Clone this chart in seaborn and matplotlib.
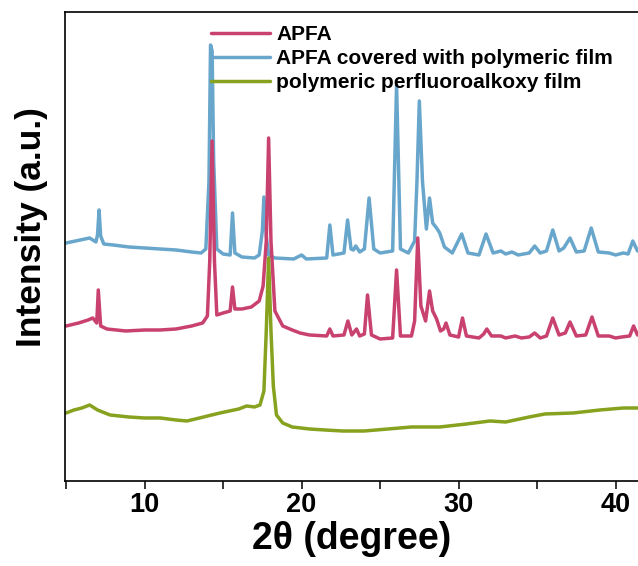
import matplotlib
matplotlib.use("Agg")
import matplotlib.pyplot as plt
import seaborn as sns
import pandas as pd
from matplotlib.ticker import MultipleLocator

# XRD patterns (2theta in degrees, intensity in arbitrary units, stacked offsets included)
apfa_2theta = [5.0, 5.8, 6.4, 6.7, 6.95, 7.05, 7.2, 7.6, 8.8, 10.0, 11.0, 12.0, 13.0, 13.7,
               14.0, 14.15, 14.3, 14.45, 14.6, 15.0, 15.45, 15.6, 15.75, 16.2, 16.8, 17.3,
               17.55, 17.75, 17.9, 18.05, 18.3, 18.8, 19.4, 19.9, 20.5, 21.6, 21.8, 22.0,
               22.7, 22.95, 23.2, 23.5, 23.7, 24.0, 24.2, 24.45, 25.0, 25.8, 26.05, 26.3,
               27.0, 27.2, 27.4, 27.6, 27.9, 28.15, 28.35, 28.6, 28.85, 29.05, 29.2, 29.45,
               30.0, 30.25, 30.5, 31.3, 31.6, 31.8, 32.1, 32.7, 33.0, 33.6, 34.0, 34.5,
               34.85, 35.2, 35.6, 36.0, 36.4, 36.8, 37.1, 37.5, 38.1, 38.5, 38.9, 39.6,
               40.0, 40.4, 40.9, 41.15, 41.4]
apfa_intensity = [155, 158, 161, 163, 158, 191, 155, 152, 150, 151, 151, 152, 155, 158,
                  165, 220, 340, 220, 166, 168, 170, 194, 172, 172, 174, 180,
                  195, 240, 343, 240, 170, 155, 151, 148, 146, 145, 152, 145,
                  146, 160, 146, 152, 145, 147, 186, 146, 142, 143, 211, 145,
                  145, 160, 243, 175, 160, 190, 170, 162, 150, 152, 158, 146,
                  144, 163, 145, 143, 147, 152, 145, 145, 143, 145, 143, 144,
                  148, 143, 145, 163, 146, 148, 159, 145, 146, 164, 145, 145,
                  143, 144, 145, 155, 146]

covered_2theta = [5.0, 5.6, 6.2, 6.5, 6.9, 7.0, 7.1, 7.2, 7.4, 8.0, 9.0, 10.0, 11.0, 12.0,
                  13.0, 13.6, 13.9, 14.1, 14.2, 14.3, 14.4, 14.6, 15.0, 15.45, 15.6, 15.75,
                  16.2, 17.0, 17.3, 17.5, 17.6, 17.75, 17.9, 18.3, 19.5, 20.0, 20.3, 21.6,
                  21.8, 22.0, 22.7, 22.93, 23.15, 23.3, 23.45, 23.7, 24.0, 24.3, 24.6, 25.0,
                  25.8, 26.05, 26.3, 26.8, 27.2, 27.35, 27.5, 27.7, 27.95, 28.15, 28.35, 28.6,
                  28.8, 29.1, 29.6, 30.2, 30.6, 31.3, 31.75, 32.2, 32.7, 33.0, 33.4, 33.8,
                  34.5, 34.85, 35.2, 35.6, 36.0, 36.4, 36.7, 37.1, 37.5, 38.0, 38.45, 38.9,
                  39.6, 40.0, 40.5, 40.8, 41.1, 41.4]
covered_intensity = [238, 240, 242, 243, 239, 246, 271, 245, 237, 236, 234, 233, 232, 231,
                     229, 228, 232, 300, 436, 430, 320, 232, 227, 226, 268, 228,
                     224, 223, 226, 250, 284, 245, 226, 223, 222, 226, 222, 223,
                     256, 226, 228, 261, 232, 231, 235, 229, 232, 283, 232, 228,
                     230, 396, 232, 228, 240, 300, 380, 300, 252, 283, 258, 253,
                     248, 234, 228, 247, 228, 226, 247, 228, 230, 227, 229, 226,
                     228, 235, 228, 230, 251, 230, 233, 243, 229, 230, 253, 229,
                     228, 226, 228, 227, 240, 230]

film_2theta = [5.0, 5.5, 6.0, 6.5, 7.0, 7.8, 9.0, 10.0, 11.0, 12.0, 12.7, 13.5, 14.8, 16.0,
               16.5, 17.0, 17.35, 17.6, 17.75, 17.9, 18.05, 18.2, 18.4, 18.8, 19.4, 20.5,
               21.5, 22.6, 24.0, 25.5, 27.0, 28.8, 30.5, 32.0, 33.0, 34.5, 35.5, 37.3,
               39.0, 40.5, 41.4]
film_intensity = [68, 71, 73, 76, 71, 66, 64, 63, 63, 61, 60, 63, 68, 72,
                  75, 74, 76, 90, 150, 223, 150, 95, 66, 58, 54, 52,
                  51, 50, 50, 52, 54, 54, 57, 60, 59, 64, 67, 68,
                  71, 73, 73]

labels = ["APFA", "APFA covered with polymeric film", "polymeric perfluoroalkoxy film"]
colors = ["#C9416F", "#69A6CC", "#86A21E"]

x_ticks = [10, 20, 30, 40]

sns.set_theme(style="white")
plt.rcParams["font.family"] = ["Liberation Sans", "DejaVu Sans"]
plt.rcParams["text.color"] = "black"
plt.rcParams["axes.labelcolor"] = "black"
plt.rcParams["xtick.color"] = "black"

fig = plt.figure(figsize=(6.38, 5.66), dpi=100)
ax = fig.add_axes([0.1019, 0.1502, 0.8981, 0.8286])

frames = {
    labels[0]: pd.DataFrame({"two_theta": apfa_2theta, "intensity": apfa_intensity}),
    labels[1]: pd.DataFrame({"two_theta": covered_2theta, "intensity": covered_intensity}),
    labels[2]: pd.DataFrame({"two_theta": film_2theta, "intensity": film_intensity}),
}

# blue trace underneath, then APFA, then the film on top
draw_order = [1, 0, 2]
handles = {}
for i in draw_order:
    name = labels[i]
    sns.lineplot(data=frames[name], x="two_theta", y="intensity", ax=ax,
                 color=colors[i], linewidth=2.5, label=name, sort=False)
    handles[name] = ax.get_lines()[-1]

ax.set_xlim(4.93, 41.43)
ax.set_ylim(0, 469)
ax.xaxis.set_major_locator(MultipleLocator(10))
ax.xaxis.set_minor_locator(MultipleLocator(5))
ax.set_xticks(x_ticks)
ax.set_xticklabels([str(t) for t in x_ticks], fontsize=19.5, fontweight="bold",
                   color="black")
ax.set_yticks([])
ax.tick_params(axis="x", which="both", direction="out", bottom=True, length=6,
               width=1.1, color="black", pad=2)

for side in ["left", "top", "bottom"]:
    ax.spines[side].set_visible(True)
    ax.spines[side].set_color("black")
    ax.spines[side].set_linewidth(1.2)
ax.spines["right"].set_visible(False)

ax.set_xlabel("2θ (degree)", fontsize=27, fontweight="bold", labelpad=2, color="black")
ax.set_ylabel("Intensity (a.u.)", fontsize=25.5, fontweight="bold", color="black")
ax.yaxis.set_label_coords(-0.03, 0.542)

leg = ax.legend([handles[n] for n in labels], labels, loc="upper left",
                bbox_to_anchor=(0.241, 0.99), frameon=False,
                prop={"weight": "bold", "size": 15},
                handlelength=2.8, handletextpad=0.3, labelspacing=0.25,
                borderaxespad=0.0)
for t in leg.get_texts():
    t.set_color("black")

fig.savefig("out.png", dpi=100)
